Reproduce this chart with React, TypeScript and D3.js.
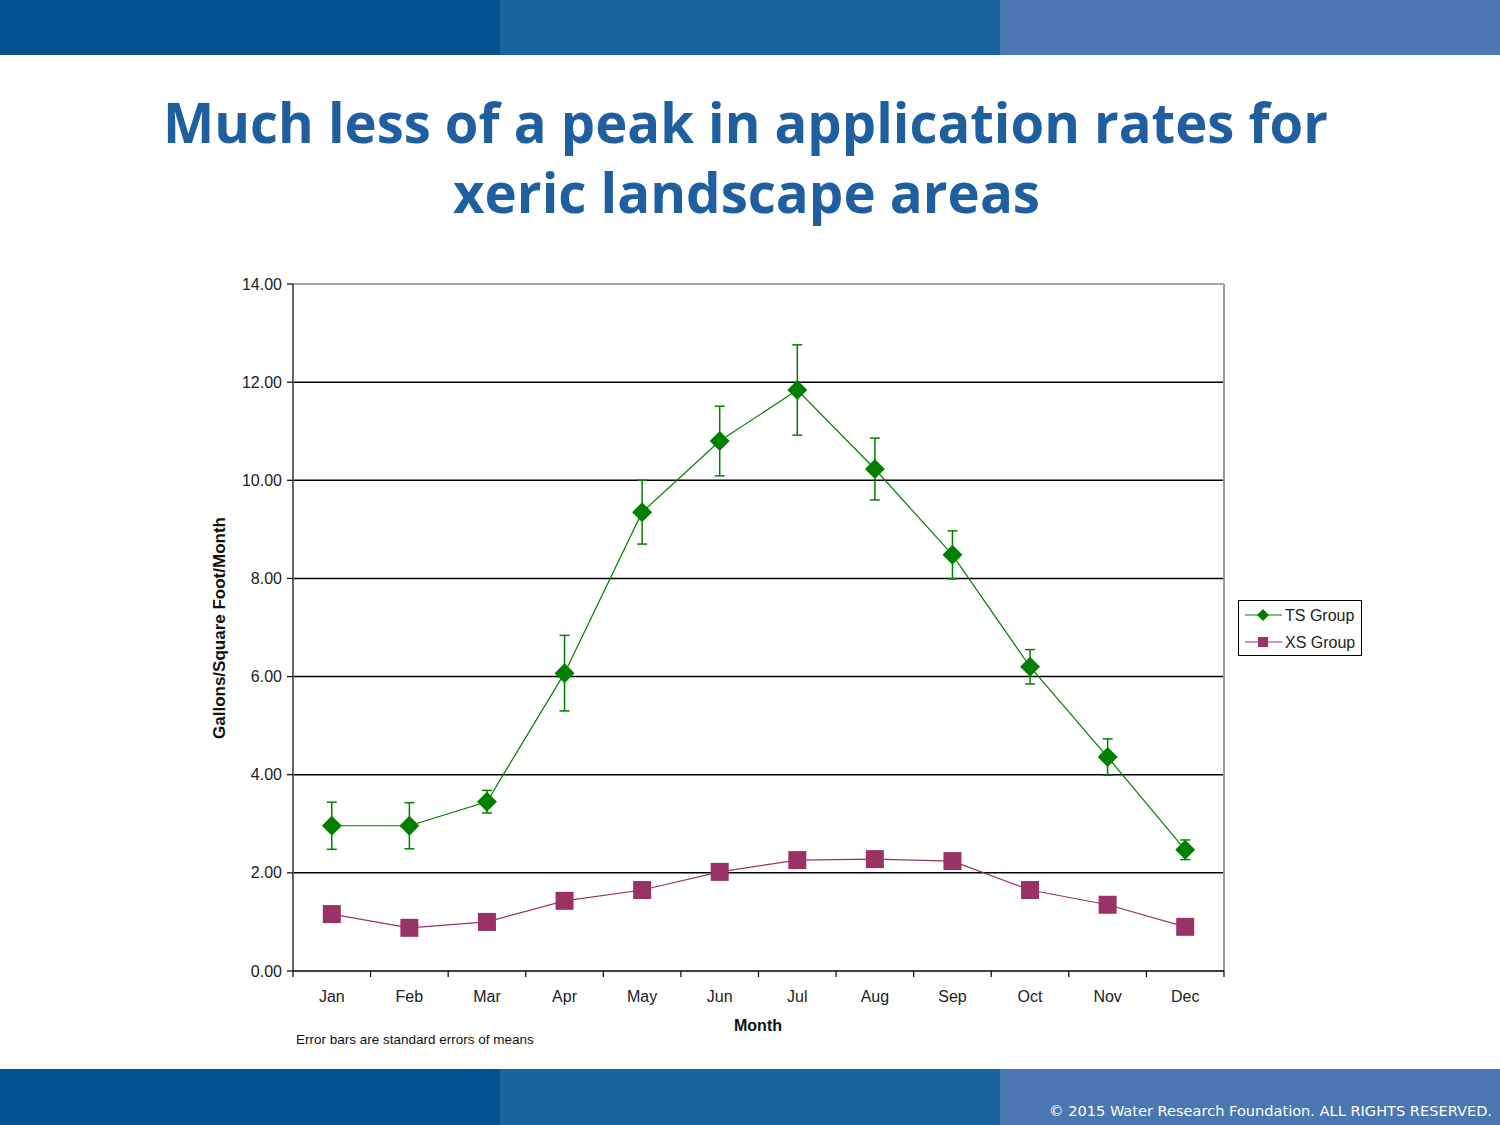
import React from "react";
import * as d3 from "d3";

const months = ["Jan", "Feb", "Mar", "Apr", "May", "Jun", "Jul", "Aug", "Sep", "Oct", "Nov", "Dec"];
const tsMeans = [2.96, 2.96, 3.45, 6.07, 9.35, 10.8, 11.84, 10.23, 8.48, 6.2, 4.36, 2.47];
const tsErrors = [0.48, 0.47, 0.23, 0.77, 0.65, 0.71, 0.92, 0.63, 0.49, 0.35, 0.37, 0.2];
const xsMeans = [1.16, 0.88, 1.0, 1.43, 1.65, 2.02, 2.26, 2.28, 2.24, 1.65, 1.35, 0.9];
const yTicks = [0, 2, 4, 6, 8, 10, 12, 14];
const seriesNames = ["TS Group", "XS Group"];

const W = 1500;
const H = 1125;
const plot = { left: 293, right: 1224, top: 284, bottom: 971 };
const green = "#008000";
const magenta = "#993366";
const axisFont = "'Liberation Sans', Arial, sans-serif";

export default function App() {
  const x = d3.scaleBand<string>().domain(months).range([plot.left, plot.right]).padding(0);
  const y = d3.scaleLinear().domain([0, 14]).range([plot.bottom, plot.top]);
  const cx = (m: string) => (x(m) as number) + x.bandwidth() / 2;
  const line = d3
    .line<number>()
    .x((_, i) => cx(months[i]))
    .y((v) => y(v));
  const boundaries = months.map((m) => x(m) as number).concat([plot.right]);

  return (
    <svg
      width={W}
      height={H}
      viewBox={`0 0 ${W} ${H}`}
      style={{ position: "absolute", left: 0, top: 0, background: "#fff" }}
    >
      {/* header & footer bands */}
      <rect x={0} y={0} width={500} height={55} fill="#03528f" />
      <rect x={500} y={0} width={500} height={55} fill="#1a63a1" />
      <rect x={1000} y={0} width={500} height={55} fill="#4a77b0" />
      <rect x={0} y={1069} width={500} height={56} fill="#03528f" />
      <rect x={500} y={1069} width={500} height={56} fill="#1a63a1" />
      <rect x={1000} y={1069} width={500} height={56} fill="#4a77b0" />
      <text
        x={1492}
        y={1116}
        textAnchor="end"
        fill="#fff"
        fontFamily="'DejaVu Sans', Verdana, sans-serif"
        fontSize={14.5}
        textLength={443}
        lengthAdjust="spacingAndGlyphs"
      >
        © 2015 Water Research Foundation. ALL RIGHTS RESERVED.
      </text>

      {/* title */}
      <g fill="#1f5fa0" fontFamily="'Open Sans', 'DejaVu Sans', sans-serif" fontWeight={700} fontSize={55}>
        <text x={163} y={143} textLength={1165} lengthAdjust="spacingAndGlyphs">
          Much less of a peak in application rates for
        </text>
        <text x={453} y={213} textLength={587} lengthAdjust="spacingAndGlyphs">
          xeric landscape areas
        </text>
      </g>

      {/* gridlines */}
      {yTicks
        .filter((t) => t > 0 && t < 14)
        .map((t) => (
          <line key={t} x1={plot.left} x2={plot.right} y1={y(t)} y2={y(t)} stroke="#000" strokeWidth={1.5} />
        ))}
      {/* plot border */}
      <line x1={plot.left} x2={plot.right} y1={plot.top} y2={plot.top} stroke="#888" strokeWidth={1.5} />
      <line x1={plot.right} x2={plot.right} y1={plot.top} y2={plot.bottom} stroke="#999" strokeWidth={2} />
      <line x1={plot.left} x2={plot.left} y1={plot.top} y2={plot.bottom} stroke="#666" strokeWidth={2} />
      <line x1={plot.left} x2={plot.right} y1={plot.bottom} y2={plot.bottom} stroke="#000" strokeWidth={1.5} />

      {/* y ticks */}
      {yTicks.map((t) => (
        <g key={t}>
          <line x1={plot.left - 6} x2={plot.left} y1={y(t)} y2={y(t)} stroke="#000" strokeWidth={1.2} />
          <text
            x={plot.left - 11}
            y={y(t)}
            dy="0.35em"
            textAnchor="end"
            fontFamily={axisFont}
            fontSize={16}
            fill="#222"
          >
            {t.toFixed(2)}
          </text>
        </g>
      ))}
      {/* x ticks */}
      {boundaries.map((b, i) => (
        <line key={i} x1={b} x2={b} y1={plot.bottom} y2={plot.bottom + 6} stroke="#000" strokeWidth={1.2} />
      ))}
      {months.map((m) => (
        <text key={m} x={cx(m)} y={1002} textAnchor="middle" fontFamily={axisFont} fontSize={16} fill="#222">
          {m}
        </text>
      ))}

      {/* axis titles */}
      <text
        transform={`translate(225,628) rotate(-90)`}
        textAnchor="middle"
        fontFamily={axisFont}
        fontWeight="bold"
        fontSize={16}
        fill="#111"
        textLength={222}
        lengthAdjust="spacingAndGlyphs"
      >
        Gallons/Square Foot/Month
      </text>
      <text x={758} y={1031} textAnchor="middle" fontFamily={axisFont} fontWeight="bold" fontSize={16} fill="#111">
        Month
      </text>
      <text x={296} y={1044} fontFamily={axisFont} fontSize={13.5} fill="#111">
        Error bars are standard errors of means
      </text>

      {/* XS series */}
      <path d={line(xsMeans) || ""} fill="none" stroke={magenta} strokeWidth={1.2} />
      {xsMeans.map((v, i) => (
        <rect key={i} x={cx(months[i]) - 9} y={y(v) - 9} width={18} height={18} fill={magenta} />
      ))}

      {/* TS series */}
      <path d={line(tsMeans) || ""} fill="none" stroke={green} strokeWidth={1.2} />
      {tsMeans.map((v, i) => {
        const px = cx(months[i]);
        const hi = y(v + tsErrors[i]);
        const lo = y(v - tsErrors[i]);
        return (
          <g key={i} stroke={green} strokeWidth={1.5}>
            <line x1={px} x2={px} y1={hi} y2={lo} />
            <line x1={px - 5} x2={px + 5} y1={hi} y2={hi} />
            <line x1={px - 5} x2={px + 5} y1={lo} y2={lo} />
          </g>
        );
      })}
      {tsMeans.map((v, i) => {
        const px = cx(months[i]);
        const py = y(v);
        return (
          <path
            key={i}
            d={`M${px},${py - 10}L${px + 10},${py}L${px},${py + 10}L${px - 10},${py}Z`}
            fill={green}
          />
        );
      })}

      {/* legend */}
      <rect x={1238.5} y={600.5} width={123} height={55} fill="#fff" stroke="#000" strokeWidth={1} />
      <g>
        <line x1={1245} x2={1282} y1={615} y2={615} stroke={green} strokeWidth={1.2} />
        <path d="M1263,609L1269,615L1263,621L1257,615Z" fill={green} />
        <text x={1285} y={615} dy="0.35em" fontFamily={axisFont} fontSize={16} fill="#222">
          {seriesNames[0]}
        </text>
        <line x1={1245} x2={1282} y1={642} y2={642} stroke={magenta} strokeWidth={1.2} />
        <rect x={1258} y={637} width={10} height={10} fill={magenta} />
        <text x={1285} y={642} dy="0.35em" fontFamily={axisFont} fontSize={16} fill="#222">
          {seriesNames[1]}
        </text>
      </g>
    </svg>
  );
}
